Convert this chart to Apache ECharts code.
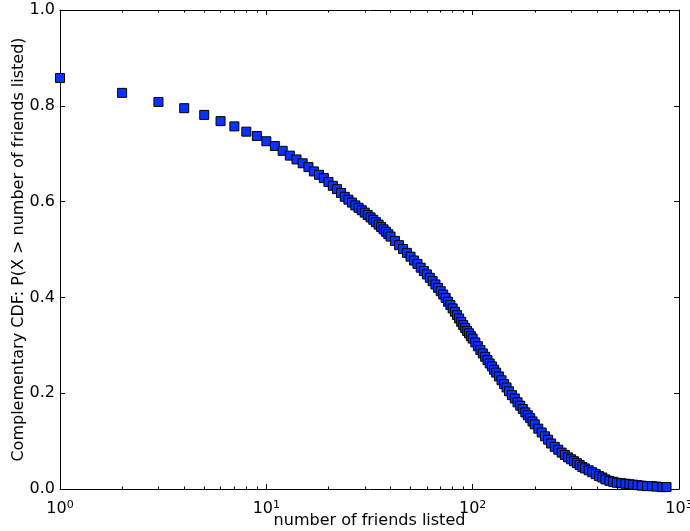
<!DOCTYPE html>
<html>
<head>
<meta charset="utf-8">
<script src="https://cdn.jsdelivr.net/npm/echarts@6/dist/echarts.min.js"></script>
<style>
  html, body { margin: 0; padding: 0; background: #fff; }
  #chart { width: 690px; height: 531px; }
</style>
</head>
<body>
<div id="chart"></div>
<script>
// number of friends listed (x) and P(X > x)
const friends = [1, 2, 3, 4, 5, 6, 7, 8, 9, 10, 11, 12, 13, 14, 15, 16, 17, 18, 19, 20,
  21, 22, 23, 24, 25, 26, 27, 28, 29, 30, 31, 32, 33, 34, 35, 36, 37, 38, 39, 40,
  42, 44, 46, 48, 50, 52, 54, 56, 58, 60, 62, 64, 66, 68, 70, 72, 74, 76, 78, 80,
  82, 84, 86, 88, 90, 92, 94, 96, 98, 100, 103, 106, 109, 112, 115, 118, 121, 124, 127, 130,
  134, 138, 142, 146, 150, 155, 160, 165, 170, 175, 180, 185, 190, 195, 200, 208, 216, 224, 232, 240,
  250, 260, 270, 280, 290, 300, 310, 320, 330, 340, 350, 365, 380, 395, 410, 425, 440, 460, 480, 500,
  525, 550, 575, 600, 630, 660, 700, 740, 780, 830, 870];
const ccdf = [0.858, 0.827, 0.808, 0.795, 0.781, 0.768, 0.757, 0.746, 0.737, 0.726, 0.716, 0.706, 0.696, 0.688, 0.680, 0.672, 0.663, 0.656, 0.649, 0.641,
  0.633, 0.626, 0.618, 0.610, 0.604, 0.598, 0.592, 0.587, 0.582, 0.577, 0.572, 0.567, 0.562, 0.557, 0.552, 0.547, 0.542, 0.537, 0.532, 0.527,
  0.518, 0.509, 0.501, 0.493, 0.485, 0.477, 0.470, 0.462, 0.455, 0.448, 0.441, 0.434, 0.427, 0.420, 0.413, 0.406, 0.399, 0.391, 0.384, 0.377,
  0.370, 0.363, 0.356, 0.349, 0.342, 0.336, 0.330, 0.325, 0.319, 0.314, 0.306, 0.298, 0.290, 0.283, 0.276, 0.269, 0.262, 0.256, 0.249, 0.243,
  0.235, 0.227, 0.219, 0.212, 0.204, 0.196, 0.189, 0.181, 0.174, 0.167, 0.160, 0.154, 0.148, 0.141, 0.135, 0.126, 0.118, 0.110, 0.103, 0.095,
  0.088, 0.082, 0.076, 0.071, 0.066, 0.062, 0.058, 0.054, 0.050, 0.046, 0.043, 0.039, 0.035, 0.031, 0.027, 0.024, 0.020, 0.017, 0.015, 0.013,
  0.012, 0.011, 0.010, 0.009, 0.008, 0.007, 0.006, 0.006, 0.005, 0.004, 0.004];

const majorTicks = [1, 10, 100, 1000];
const minorTicks = [2, 3, 4, 5, 6, 7, 8, 9, 20, 30, 40, 50, 60, 70, 80, 90, 200, 300, 400, 500, 600, 700, 800, 900];

const font = "'DejaVu Sans', sans-serif";
const ink = '#000';

let chart = echarts.init(document.getElementById('chart'), null, { renderer: 'canvas' });

// same box for both grids; grid 1 only carries the minor ticks
const gridBox = { left: 60, right: 11, top: 10, bottom: 42, containLabel: false, outerBoundsMode: 'none' };

function logAxis(opt) {
  return Object.assign({
    type: 'log',
    logBase: 10,
    min: 1,
    max: 1000,
    splitLine: { show: false },
    axisLine: { show: true, onZero: false, lineStyle: { color: ink, width: 1 } },
    axisLabel: { show: false }
  }, opt);
}

chart.setOption({
  animation: false,
  backgroundColor: '#fff',
  grid: [Object.assign({}, gridBox), Object.assign({}, gridBox)],
  xAxis: [
    logAxis({
      gridIndex: 0,
      position: 'bottom',
      axisTick: { inside: true, length: 5, lineStyle: { color: ink }, customValues: majorTicks },
      axisLabel: {
        show: true,
        customValues: majorTicks,
        margin: 11,
        color: ink,
        fontFamily: font,
        formatter: function (v) {
          return '{b|10}{s|' + Math.round(Math.log10(v)) + '}';
        },
        rich: {
          b: { fontSize: 16, fontFamily: font, color: ink, lineHeight: 18 },
          s: { fontSize: 11, fontFamily: font, color: ink, verticalAlign: 'top', lineHeight: 11 }
        }
      },
      name: 'number of friends listed',
      nameLocation: 'middle',
      nameGap: 24,
      nameMoveOverlap: false,
      nameTextStyle: { fontSize: 16, fontFamily: font, color: ink, verticalAlign: 'top' }
    }),
    logAxis({
      gridIndex: 0,
      position: 'top',
      axisTick: { inside: true, length: 5, lineStyle: { color: ink }, customValues: majorTicks }
    }),
    logAxis({
      gridIndex: 1,
      position: 'bottom',
      axisLine: { show: false },
      axisTick: { inside: true, length: 2.5, lineStyle: { color: ink }, customValues: minorTicks }
    }),
    logAxis({
      gridIndex: 1,
      position: 'top',
      axisLine: { show: false },
      axisTick: { inside: true, length: 2.5, lineStyle: { color: ink }, customValues: minorTicks }
    })
  ],
  yAxis: [
    {
      gridIndex: 0,
      type: 'value',
      position: 'left',
      min: 0,
      max: 1,
      interval: 0.2,
      splitLine: { show: false },
      axisLine: { show: true, lineStyle: { color: ink, width: 1 } },
      axisTick: { show: true, inside: true, length: 5, lineStyle: { color: ink } },
      axisLabel: {
        color: ink,
        fontSize: 16,
        fontFamily: font,
        margin: 5,
        formatter: function (v) { return v.toFixed(1); }
      },
      name: 'Complementary CDF: P(X > number of friends listed)',
      nameLocation: 'middle',
      nameGap: 33,
      nameMoveOverlap: false,
      nameTextStyle: { fontSize: 16, fontFamily: font, color: ink }
    },
    {
      gridIndex: 0,
      type: 'value',
      position: 'right',
      min: 0,
      max: 1,
      interval: 0.2,
      splitLine: { show: false },
      axisLine: { show: true, lineStyle: { color: ink, width: 1 } },
      axisTick: { show: true, inside: true, length: 5, lineStyle: { color: ink } },
      axisLabel: { show: false }
    },
    {
      gridIndex: 1,
      type: 'value',
      min: 0,
      max: 1,
      show: false
    }
  ],
  series: [
    {
      type: 'scatter',
      xAxisIndex: 0,
      yAxisIndex: 0,
      symbol: 'rect',
      symbolSize: 9,
      clip: false,
      itemStyle: { color: '#0b33ff', borderColor: '#000', borderWidth: 1, opacity: 1 },
      data: friends.map((f, i) => [f, ccdf[i]])
    }
  ]
});
</script>
</body>
</html>
